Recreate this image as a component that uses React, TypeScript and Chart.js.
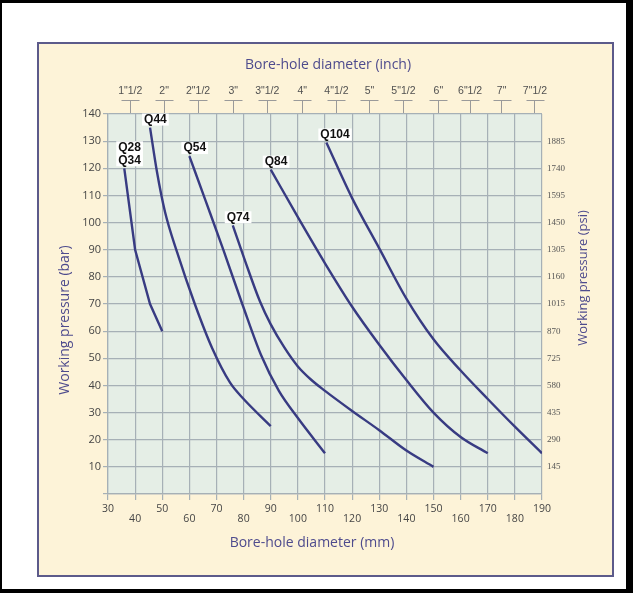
import React, { useEffect, useRef } from 'react';
import { Chart, registerables } from 'chart.js';

Chart.register(...registerables);

// ---- data ----
const barTicks = [10, 20, 30, 40, 50, 60, 70, 80, 90, 100, 110, 120, 130, 140];
const psiTicks = [10, 20, 30, 40, 50, 60, 70, 80, 90, 100, 110, 120, 130];
const psiLabels = ['145', '290', '435', '580', '725', '870', '1015', '1160', '1305', '1450', '1595', '1740', '1885'];
const inchLabels = ['1"1/2', '2"', '2"1/2', '3"', '3"1/2', '4"', '4"1/2', '5"', '5"1/2', '6"', '6"1/2', '7"', '7"1/2'];
const inchPositionsMm = [38.2, 50.7, 63.2, 76.2, 88.7, 101.6, 114.2, 126.4, 138.9, 151.8, 163.5, 175.1, 187.4];

const seriesLabels = [['Q28', 'Q34'], ['Q44'], ['Q54'], ['Q74'], ['Q84'], ['Q104']];

const q28Diameter = [36, 40, 45.5, 50];
const q28Pressure = [120, 90, 70, 60];

const q44Diameter = [45.5, 48, 51, 55.5, 62, 68.5, 75, 80, 90];
const q44Pressure = [135, 119, 104, 89, 70, 53.5, 41, 35, 25];

const q54Diameter = [60, 66, 72.5, 79.5, 86.5, 93, 100, 110];
const q54Pressure = [124.5, 108, 90, 70, 51, 38, 28, 15];

const q74Diameter = [76, 80.5, 86, 90, 95, 100, 105, 110, 120, 130, 140, 150];
const q74Pressure = [99, 86, 71, 62.5, 54, 47, 42, 38, 30.6, 23.5, 16, 10];

const q84Diameter = [90, 100, 110, 120, 130, 140, 150, 160, 170];
const q84Pressure = [119.5, 102, 85, 69, 55, 42, 30, 21, 15];

const q104Diameter = [110.5, 120, 130, 140, 150, 160, 170, 180, 190];
const q104Pressure = [129.5, 109, 90.5, 72, 57, 45.5, 35, 24.8, 15];

const seriesX = [q28Diameter, q44Diameter, q54Diameter, q74Diameter, q84Diameter, q104Diameter];
const seriesY = [q28Pressure, q44Pressure, q54Pressure, q74Pressure, q84Pressure, q104Pressure];

// ---- styles ----
const LINE_COLOR = '#383b82';
const GRID_COLOR = '#a6b0b6';
const TITLE_COLOR = '#4e4b8d';
const TICK_COLOR = '#454545';

const framePlugin = {
  id: 'framePlugin',
  beforeDraw(chart: any) {
    const { ctx, width, height, chartArea } = chart;
    ctx.save();
    ctx.fillStyle = '#000';
    ctx.fillRect(0, 0, width, height);
    ctx.fillStyle = '#fff';
    ctx.fillRect(2, 3, 624, 586);
    ctx.fillStyle = '#fdf3d8';
    ctx.fillRect(38, 43, 575, 533);
    ctx.strokeStyle = '#5c5a8a';
    ctx.lineWidth = 2;
    ctx.strokeRect(38, 43, 575, 533);
    ctx.fillStyle = '#e5eee6';
    ctx.fillRect(chartArea.left, chartArea.top, chartArea.right - chartArea.left, chartArea.bottom - chartArea.top);
    ctx.restore();
  },
};

const decorPlugin = {
  id: 'decorPlugin',
  afterDraw(chart: any) {
    const { ctx, chartArea } = chart;
    const top = chart.scales.xTop;
    ctx.save();
    // T bars of the inch axis
    ctx.strokeStyle = '#9a9a9a';
    ctx.lineWidth = 1;
    inchPositionsMm.forEach((v) => {
      const x = Math.round(top.getPixelForValue(v)) + 0.5;
      const y = chartArea.top - 14 + 0.5;
      ctx.beginPath();
      ctx.moveTo(x - 9, y);
      ctx.lineTo(x + 9, y);
      ctx.stroke();
    });
    // axis titles
    ctx.fillStyle = TITLE_COLOR;
    ctx.textAlign = 'center';
    ctx.textBaseline = 'middle';
    ctx.font = '14px "Open Sans"';
    ctx.fillText('Bore-hole diameter (inch)', 328, 65);
    ctx.fillText('Bore-hole diameter (mm)', 312, 543);
    ctx.save();
    ctx.translate(65, 320);
    ctx.rotate(-Math.PI / 2);
    ctx.fillText('Working pressure (bar)', 0, 0);
    ctx.restore();
    ctx.save();
    ctx.translate(583, 278);
    ctx.rotate(-Math.PI / 2);
    ctx.font = '13px "Open Sans"';
    ctx.fillText('Working pressure (psi)', 0, 0);
    ctx.restore();
    ctx.restore();
  },
  afterDatasetsDraw(chart: any) {
    const { ctx } = chart;
    ctx.save();
    ctx.font = 'bold 12px "Liberation Sans"';
    ctx.textBaseline = 'middle';
    ctx.textAlign = 'left';
    seriesLabels.forEach((lines, i) => {
      const meta = chart.getDatasetMeta(i);
      const p = meta.data[0];
      if (!p) return;
      const left = p.x - 6;
      const lh = 13;
      const n = lines.length;
      const w = Math.max(...lines.map((l) => ctx.measureText(l).width));
      const lastCenter = p.y - 8;
      const topY = lastCenter - (n - 1) * lh - 6;
      ctx.fillStyle = '#ffffff';
      ctx.fillRect(left - 2, topY, w + 4, (n - 1) * lh + 12);
      ctx.fillStyle = '#111';
      lines.forEach((l, k) => {
        ctx.fillText(l, left, lastCenter - (n - 1 - k) * lh);
      });
    });
    ctx.restore();
  },
};

export default function App() {
  const ref = useRef<HTMLCanvasElement | null>(null);

  useEffect(() => {
    if (!ref.current) return;
    const datasets = seriesX.map((xs, i) => ({
      label: seriesLabels[i].join('/'),
      data: xs.map((x, k) => ({ x, y: seriesY[i][k] })),
      borderColor: LINE_COLOR,
      backgroundColor: LINE_COLOR,
      borderWidth: 2.4,
      pointRadius: 0,
      fill: false,
      tension: i === 0 ? 0 : 0.4,
      cubicInterpolationMode: i === 0 ? 'default' : 'monotone',
      xAxisID: 'x',
      yAxisID: 'y',
    }));

    const chart = new Chart(ref.current, {
      type: 'line',
      data: { datasets } as any,
      plugins: [framePlugin, decorPlugin],
      options: {
        animation: false,
        responsive: false,
        devicePixelRatio: 1,
        layout: { padding: { left: 40, right: 21, top: 44, bottom: 18 } },
        plugins: { legend: { display: false }, tooltip: { enabled: false } },
        scales: {
          x: {
            type: 'linear',
            position: 'bottom',
            min: 30,
            max: 190,
            afterFit: (s: any) => { s.height = 81; },
            grid: { color: GRID_COLOR, lineWidth: 1.2, tickLength: 6, drawTicks: true },
            border: { color: GRID_COLOR, width: 1.2 },
            ticks: {
              stepSize: 10,
              autoSkip: false,
              maxRotation: 0,
              padding: 4,
              color: TICK_COLOR,
              font: { family: '"Open Sans"', size: 10.5, lineHeight: 0.95 },
              callback: (v: any) => ((Number(v) - 30) % 20 === 0 ? [String(v)] : ['', String(v)]),
            },
          },
          xTop: {
            type: 'linear',
            position: 'top',
            min: 30,
            max: 190,
            afterFit: (s: any) => { s.height = 70; },
            afterBuildTicks: (s: any) => { s.ticks = inchPositionsMm.map((v) => ({ value: v })); },
            grid: { drawOnChartArea: false, drawTicks: true, tickLength: 14, color: '#9a9a9a', lineWidth: 1 },
            border: { display: false },
            ticks: {
              autoSkip: false,
              maxRotation: 0,
              padding: 3,
              color: '#505050',
              font: { family: '"Liberation Sans"', size: 10.5 },
              callback: (_v: any, i: number) => inchLabels[i],
            },
          },
          y: {
            type: 'linear',
            position: 'left',
            min: 0,
            max: 140,
            afterFit: (s: any) => { s.width = 68; },
            afterBuildTicks: (s: any) => { s.ticks = [0, ...barTicks].map((v) => ({ value: v })); },
            grid: { color: GRID_COLOR, lineWidth: 1.2, tickLength: 5 },
            border: { color: GRID_COLOR, width: 1.2 },
            ticks: {
              padding: 2,
              color: TICK_COLOR,
              font: { family: '"Open Sans"', size: 11 },
              callback: (v: any) => (Number(v) === 0 ? '' : String(v)),
            },
          },
          yRight: {
            type: 'linear',
            position: 'right',
            min: 0,
            max: 140,
            afterFit: (s: any) => { s.width = 70; },
            afterBuildTicks: (s: any) => { s.ticks = psiTicks.map((v) => ({ value: v })); },
            grid: { drawOnChartArea: false, drawTicks: false },
            border: { display: false },
            ticks: {
              padding: 5,
              color: '#555',
              font: { family: '"Liberation Serif"', size: 9 },
              callback: (v: any) => {
                const i = psiTicks.indexOf(Number(v));
                return i >= 0 ? psiLabels[i] : '';
              },
            },
          },
        },
      } as any,
    });
    return () => chart.destroy();
  }, []);

  return (
    <div style={{ position: 'fixed', left: 0, top: 0, width: 633, height: 593 }}>
      <canvas ref={ref} width={633} height={593} style={{ width: 633, height: 593, display: 'block' }} />
    </div>
  );
}
